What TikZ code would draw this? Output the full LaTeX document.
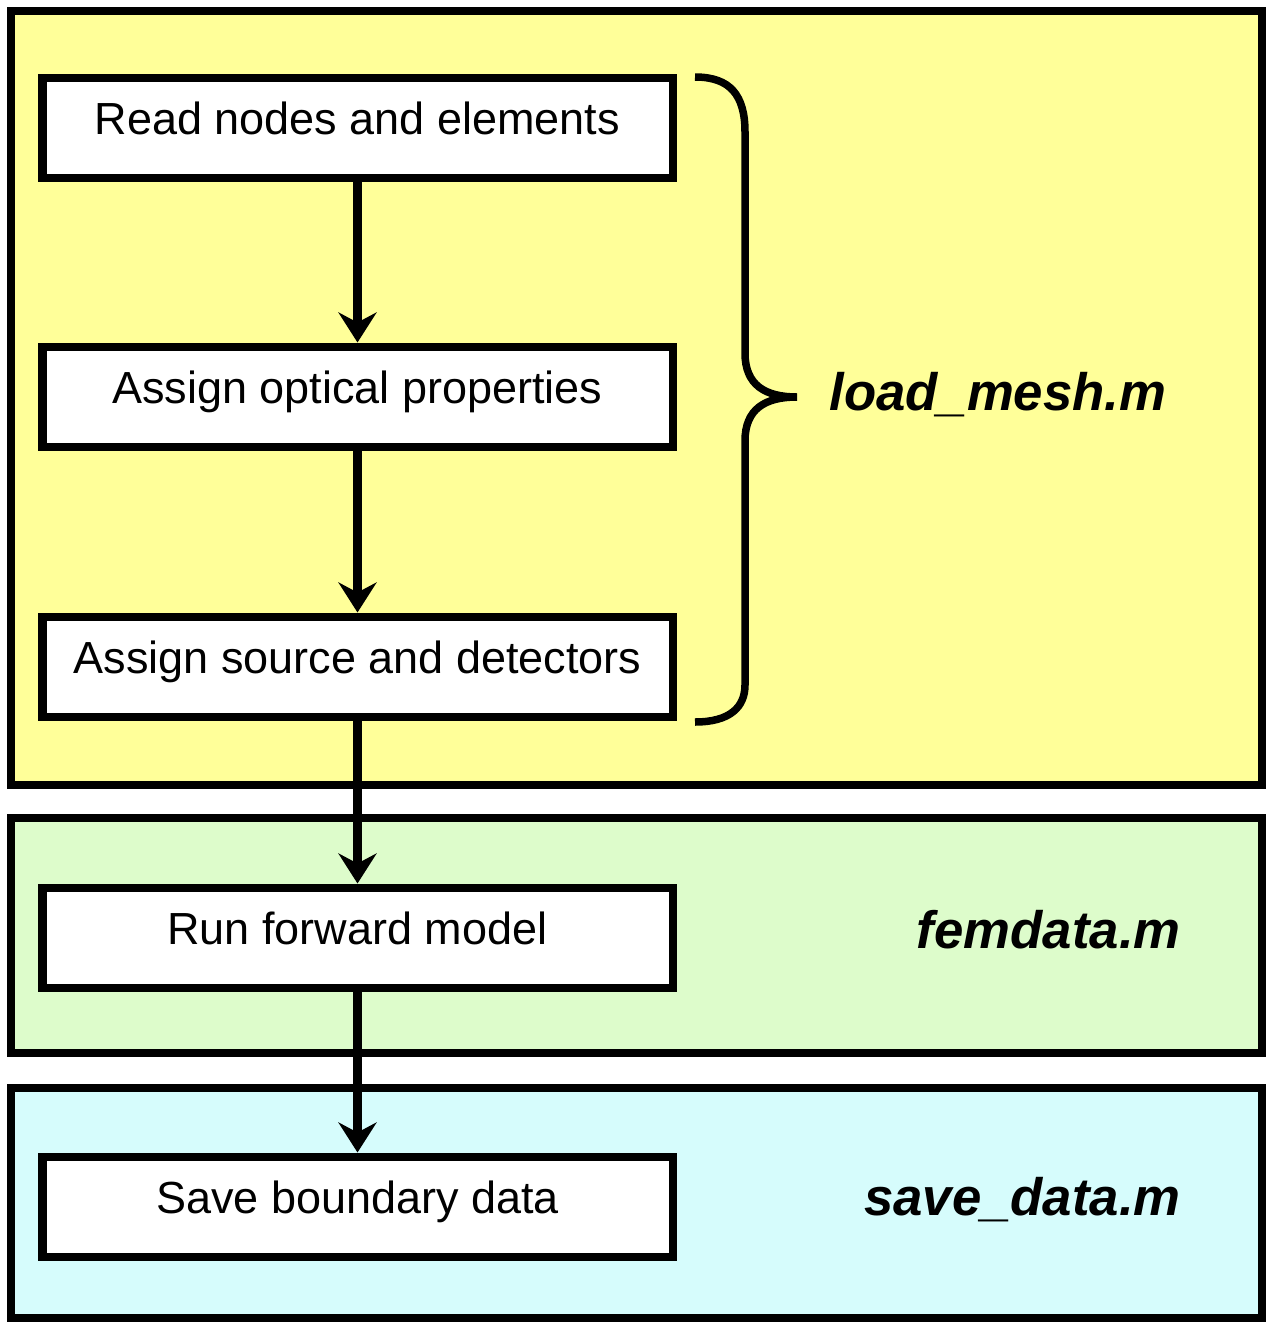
\documentclass[tikz,border=0pt]{standalone}
\usepackage{fontspec}
\setmainfont{Liberation Sans}
\usetikzlibrary{arrows.meta}

\definecolor{meshyellow}{HTML}{FFFF99}
\definecolor{femgreen}{HTML}{DDFCCB}
\definecolor{savecyan}{HTML}{D6FCFC}

\tikzset{
    stepbox/.style={draw, line width=0.08cm, fill=white, minimum width=6.3cm,
        minimum height=1.0cm, inner sep=0pt, text height=0.8em, text depth=0.4em,
        font=\fontsize{12.8}{15}\selectfont},
    panel/.style={draw, line width=0.075cm},
    flow/.style={line width=0.09cm, -{Stealth[length=0.3cm,width=0.38cm,inset=0.1cm]}},
    filename/.style={font=\fontsize{15}{18}\selectfont\bfseries\itshape},
}

\begin{document}
\begin{tikzpicture}
            \useasboundingbox (0,0) rectangle (12.73,-13.22);

            % one panel per script
            \draw[panel,fill=meshyellow] (0.11,-0.11) rectangle (12.62,-7.85);
            \draw[panel,fill=femgreen] (0.11,-8.18) rectangle (12.62,-10.53);
            \draw[panel,fill=savecyan] (0.11,-10.88) rectangle (12.62,-13.18);

            \foreach \n/\y/\t in {read/1.275/Read nodes and elements,
                                  optic/3.965/Assign optical properties,
                                  srcdet/6.665/Assign source and detectors,
                                  fwd/9.375/Run forward model,
                                  save/12.065/Save boundary data} {
                \node[stepbox] (\n) at (3.575,-\y) {\t};
            }
            \foreach \a/\b in {read/optic,optic/srcdet,srcdet/fwd,fwd/save} {
                \draw[flow] (\a) -- (\b);
            }

            % brace over the first three steps
            \coordinate (brtop) at (6.95,-0.77);
            \coordinate (brtip) at (7.97,-3.97);
            \coordinate (brbot) at (6.95,-7.22);
            \draw[line width=0.075cm] (brtop) .. controls (7.3,-0.77) and (7.45,-0.95) .. (7.45,-1.32)
                -- (7.45,-3.53) .. controls (7.45,-3.85) and (7.65,-3.97) .. (brtip)
                .. controls (7.65,-3.97) and (7.45,-4.09) .. (7.45,-4.41)
                -- (7.45,-6.85) .. controls (7.45,-7.07) and (7.3,-7.22) .. (brbot);

            \node[filename,anchor=base west] (meshname) at (8.17,-4.10) {load\_mesh.m};
            \node[filename,anchor=base east] (femname) at (11.93,-9.48) {femdata.m};
            \node[filename,anchor=base east] (savename) at (11.93,-12.15) {save\_data.m};
\end{tikzpicture}
\end{document}
